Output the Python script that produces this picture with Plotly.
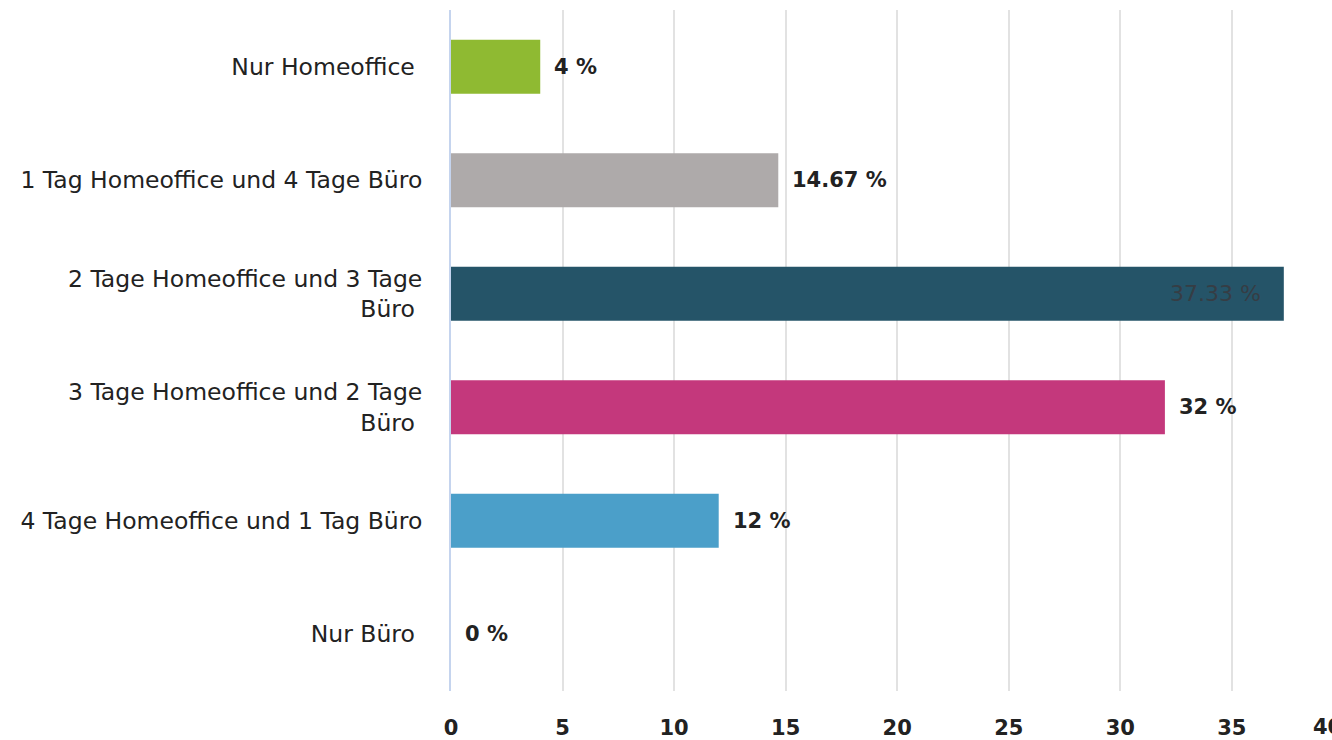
import plotly.graph_objects as go

categories = [
    "Nur Homeoffice",
    "1 Tag Homeoffice und 4 Tage Büro",
    "2 Tage Homeoffice und 3 Tage<br>Büro",
    "3 Tage Homeoffice und 2 Tage<br>Büro",
    "4 Tage Homeoffice und 1 Tag Büro",
    "Nur Büro",
]
trailing_space = [True, False, True, True, False, True]
values = [4, 14.67, 37.33, 32, 12, 0]
labels = ["4 %", "14.67 %", "37.33 %", "32 %", "12 %", "0 %"]
inside = [False, False, True, False, False, False]
colors = ["#8fba32", "#aeaaaa", "#255468", "#c4387c", "#4b9fc9", "#8fba32"]
x_ticks = [0, 5, 10, 15, 20, 25, 30, 35, 40]
x_max = 39.49

FONT = "DejaVu Sans, Liberation Sans, Arial, sans-serif"
TXT = "#222222"

ticktext = [c + ("\u00a0" if t else "") for c, t in zip(categories, trailing_space)]

fig = go.Figure()
fig.add_trace(go.Bar(
    x=values, y=categories, orientation="h",
    marker=dict(color=colors, line=dict(width=0)),
    width=0.476, hoverinfo="skip",
))

annotations = []
for c, v, lab, ins in zip(categories, values, labels, inside):
    if ins:
        annotations.append(dict(x=v, y=c, xref="x", yref="y", text=lab, showarrow=False,
                                xanchor="right", xshift=-21,
                                font=dict(family=FONT, size=22, color="#363d44")))
    else:
        annotations.append(dict(x=v, y=c, xref="x", yref="y", text="<b>" + lab + "</b>", showarrow=False,
                                xanchor="left", xshift=12,
                                font=dict(family=FONT, size=21, color=TXT)))
# last x tick (beyond visible range), placed in paper coordinates derived from the scale
annotations.append(dict(x=x_ticks[-1] / x_max, y=0, xref="paper", yref="paper",
                        text="<b>%d</b>" % x_ticks[-1],
                        showarrow=False, xanchor="center", yanchor="top",
                        xshift=-16, yshift=-22,
                        font=dict(family=FONT, size=21, color=TXT)))

fig.update_layout(
    width=1332, height=740,
    margin=dict(l=451, r=0, t=10, b=47),
    paper_bgcolor="white", plot_bgcolor="white",
    showlegend=False,
    annotations=annotations,
    font=dict(family=FONT, size=23.5, color=TXT),
    xaxis=dict(
        range=[0, x_max], tickvals=x_ticks[:-1],
        ticktext=["<b>%d</b>" % t for t in x_ticks[:-1]],
        showgrid=True, gridcolor="#e2e2e2", gridwidth=2,
        zeroline=False, showline=False, ticks="",
        tickfont=dict(family=FONT, size=21, color=TXT),
        ticklabelstandoff=22,
    ),
    yaxis=dict(
        categoryorder="array", categoryarray=categories, autorange="reversed",
        tickvals=categories, ticktext=ticktext,
        showline=True, linecolor="#c5d4ee", linewidth=2,
        showgrid=False, zeroline=False, ticks="",
        tickfont=dict(family=FONT, size=23.5, color=TXT),
        ticklabelstandoff=22,
    ),
)

fig.write_html(
    "out.html",
    config={"displayModeBar": False},
    post_script="document.body.style.margin='0';document.body.style.overflow='hidden';",
)
